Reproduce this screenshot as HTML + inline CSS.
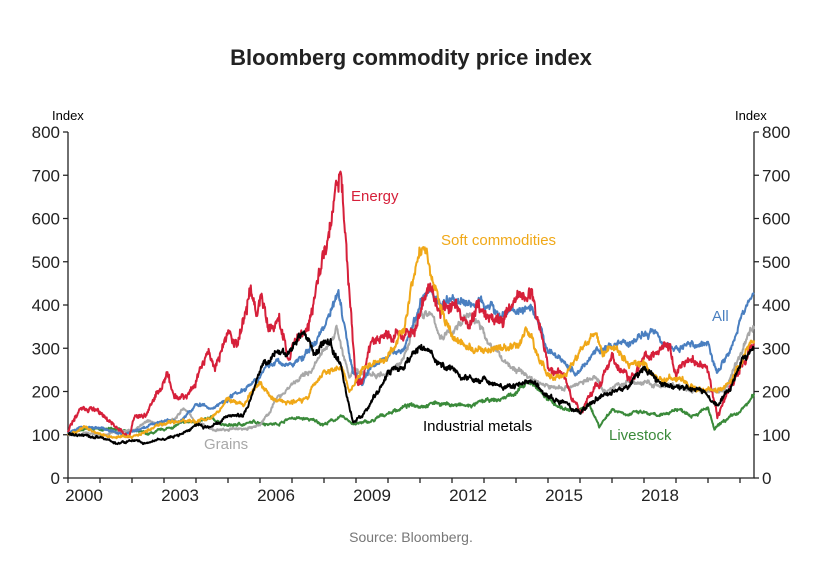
<!DOCTYPE html>
<html><head><meta charset="utf-8"><style>
body{margin:0;background:#fff;}
svg{display:block;font-family:"Liberation Sans",Arial,sans-serif;}
</style></head><body>
<svg id="c" width="840" height="564" viewBox="0 0 840 564">
<text x="411" y="65" text-anchor="middle" font-size="22" font-weight="bold" fill="#222">Bloomberg commodity price index</text>
<text x="52" y="120" font-size="13" fill="#000">Index</text>
<text x="735" y="120" font-size="13" fill="#000">Index</text>
<g id="ax" stroke="#222" stroke-width="1.3" fill="none"></g>
<g id="lbl" font-size="17" fill="#222"></g>
<g id="ser" fill="none" stroke-width="2" stroke-linejoin="round"></g>
<text x="351" y="201" font-size="15" fill="#d6203a">Energy</text>
<text x="441" y="245" font-size="15" fill="#f0a818">Soft commodities</text>
<text x="712" y="321" font-size="15" fill="#4a7fc0">All</text>
<text x="204" y="449" font-size="15" fill="#a8a8a8">Grains</text>
<text x="423" y="431" font-size="15" fill="#000">Industrial metals</text>
<text x="609" y="440" font-size="15" fill="#3a8a3a">Livestock</text>
<text x="411" y="542" text-anchor="middle" font-size="14" fill="#777">Source: Bloomberg.</text>
</svg>
<script>
var NS="http://www.w3.org/2000/svg";
var X0=68,X1=754,Y0=478,YT=132;
function X(t){return X0+(t-2000)*32;}
function Y(v){return Y0-v*(Y0-YT)/800;}
var ax=document.getElementById('ax'),lb=document.getElementById('lbl');
function el(p,n,a,t){var e=document.createElementNS(NS,n);for(var k in a)e.setAttribute(k,a[k]);if(t!==undefined)e.textContent=t;p.appendChild(e);return e;}
el(ax,'path',{d:'M'+X0+' '+YT+'V'+Y0+'H'+X1+'V'+YT});
for(var v=0;v<=800;v+=100){var y=Y(v);
el(ax,'path',{d:'M'+X0+' '+y+'h-5M'+X1+' '+y+'h5'});
el(lb,'text',{x:X0-8,y:y+6,'text-anchor':'end'},String(v));
el(lb,'text',{x:X1+8,y:y+6},String(v));}
for(var yr=2000;yr<=2021;yr++){el(ax,'path',{d:'M'+X(yr)+' '+Y0+'v5'});}
for(var yr=2000;yr<=2018;yr+=3)el(lb,'text',{x:X(yr)+16,y:Y0+23,'text-anchor':'middle'},String(yr));
var seed=7;function rnd(){seed=(seed*16807)%2147483647;return seed/2147483647;}
function S(col,kp,amp){
 var pts=[];for(var i=0;i<kp.length;i+=2)pts.push([kp[i],kp[i+1]]);
 var N=1400,d="",w=0;
 for(var i=0;i<=N;i++){var t=2000+i*(21.44/N);
  var j=0;while(j<pts.length-2&&pts[j+1][0]<t)j++;
  var a=pts[j],b=pts[j+1];var f=Math.max(0,Math.min(1,(t-a[0])/(b[0]-a[0])));
  var v=a[1]+(b[1]-a[1])*f;
  w=w*0.92+(rnd()-0.5)*amp*0.5;
  var vv=v*(1+w*0.05)+(rnd()-0.5)*amp*v*0.03;
  d+=(i?'L':'M')+X(t).toFixed(1)+' '+Y(vv).toFixed(1);}
 el(document.getElementById('ser'),'path',{d:d,stroke:col});
}
S('#3a8a3a',[2000,105,2000.5,110,2001,115,2001.5,110,2002,110,2002.5,100,2003,110,2003.5,125,2004,130,2004.5,135,2005,120,2005.5,125,2006,130,2006.5,125,2007,140,2007.5,135,2008,125,2008.5,140,2009,125,2009.5,130,2010,150,2010.5,165,2011,170,2011.5,175,2012,170,2012.5,165,2013,175,2013.5,180,2014,200,2014.5,220,2014.8,200,2015,180,2015.5,160,2016,155,2016.3,170,2016.6,120,2017,160,2017.5,150,2018,150,2018.5,140,2019,160,2019.5,150,2020,160,2020.2,110,2020.5,130,2021,150,2021.44,190],1);
S('#a8a8a8',[2000,100,2000.5,105,2001,100,2002,110,2002.5,130,2003,125,2003.5,150,2003.6,160,2004,130,2004.5,110,2005,110,2005.5,115,2006,120,2006.5,180,2007,220,2007.5,240,2008,290,2008.4,350,2008.8,230,2009,250,2009.5,240,2010,250,2010.5,280,2011,380,2011.3,380,2011.7,320,2012,340,2012.5,380,2012.8,360,2013,330,2013.5,280,2014,250,2014.5,230,2015,210,2015.5,210,2016,220,2016.5,230,2016.8,200,2017,210,2017.5,220,2018,220,2018.5,210,2019,210,2019.5,200,2020,200,2020.5,200,2021,280,2021.44,360],1);
S('#4a7fc0',[2000,105,2000.5,120,2001,115,2001.8,100,2002.5,120,2003,135,2003.5,130,2004,170,2004.5,160,2005,185,2005.5,210,2006,240,2006.5,270,2007,260,2007.5,290,2008,350,2008.45,440,2008.9,250,2009.2,220,2009.5,270,2010,280,2010.5,300,2011,400,2011.3,440,2011.7,400,2012,420,2012.5,400,2013,410,2013.5,380,2014,390,2014.5,380,2015,290,2015.5,270,2015.9,240,2016.5,300,2017,300,2017.5,310,2018,330,2018.4,340,2018.9,300,2019.5,310,2020,310,2020.3,250,2020.7,300,2021,360,2021.44,435],1);
S('#d6203a',[2000,105,2000.3,150,2000.7,165,2001,145,2001.5,120,2001.9,95,2002.1,140,2002.5,150,2002.8,200,2003.1,230,2003.3,180,2003.7,190,2004,230,2004.4,300,2004.6,260,2005,330,2005.3,300,2005.7,450,2005.9,380,2006,430,2006.3,340,2006.6,370,2006.9,280,2007,300,2007.5,360,2007.8,450,2008.2,580,2008.5,700,2008.8,420,2009,230,2009.2,220,2009.5,320,2010,330,2010.5,320,2011,380,2011.3,440,2011.7,380,2012,410,2012.5,340,2012.8,400,2013,390,2013.5,380,2014,400,2014.5,430,2014.8,330,2015,260,2015.5,240,2015.8,180,2016,150,2016.3,200,2016.8,240,2017,270,2017.3,240,2017.6,230,2018,280,2018.4,300,2018.8,320,2019,250,2019.5,280,2020,250,2020.3,140,2020.6,200,2021,250,2021.44,310],1.6);
S('#f0a818',[2000,100,2000.5,115,2001.5,95,2002,95,2002.5,110,2003,125,2003.5,130,2004,130,2004.5,140,2005,180,2005.5,170,2006,220,2006.3,190,2006.8,170,2007,175,2007.5,190,2008,250,2008.5,270,2008.8,200,2009,230,2009.5,270,2010,280,2010.5,340,2010.9,500,2011.1,550,2011.4,450,2011.8,350,2012,330,2012.5,300,2013,290,2013.5,290,2014,300,2014.3,340,2014.6,300,2015,240,2015.5,230,2016,280,2016.5,350,2016.7,300,2017,300,2017.5,260,2018,260,2018.5,230,2019,230,2019.5,220,2020,210,2020.3,200,2020.7,230,2021,270,2021.44,320],1.2);
S('#000000',[2000,100,2000.5,95,2001,95,2001.5,80,2002,85,2002.5,80,2003,90,2003.5,100,2004,120,2004.5,120,2005,140,2005.5,150,2006,250,2006.5,300,2007,290,2007.3,330,2007.8,280,2008.2,320,2008.5,270,2008.9,130,2009.2,140,2009.7,200,2010,240,2010.5,250,2011,300,2011.3,290,2011.8,240,2012,250,2012.5,230,2013,230,2013.5,210,2014,210,2014.5,230,2015,190,2015.5,170,2016,150,2016.5,180,2017,200,2017.5,210,2018,250,2018.4,230,2018.8,210,2019,210,2019.5,210,2020,200,2020.3,170,2020.7,210,2021,260,2021.44,310],1.2);
</script>
</body></html>
